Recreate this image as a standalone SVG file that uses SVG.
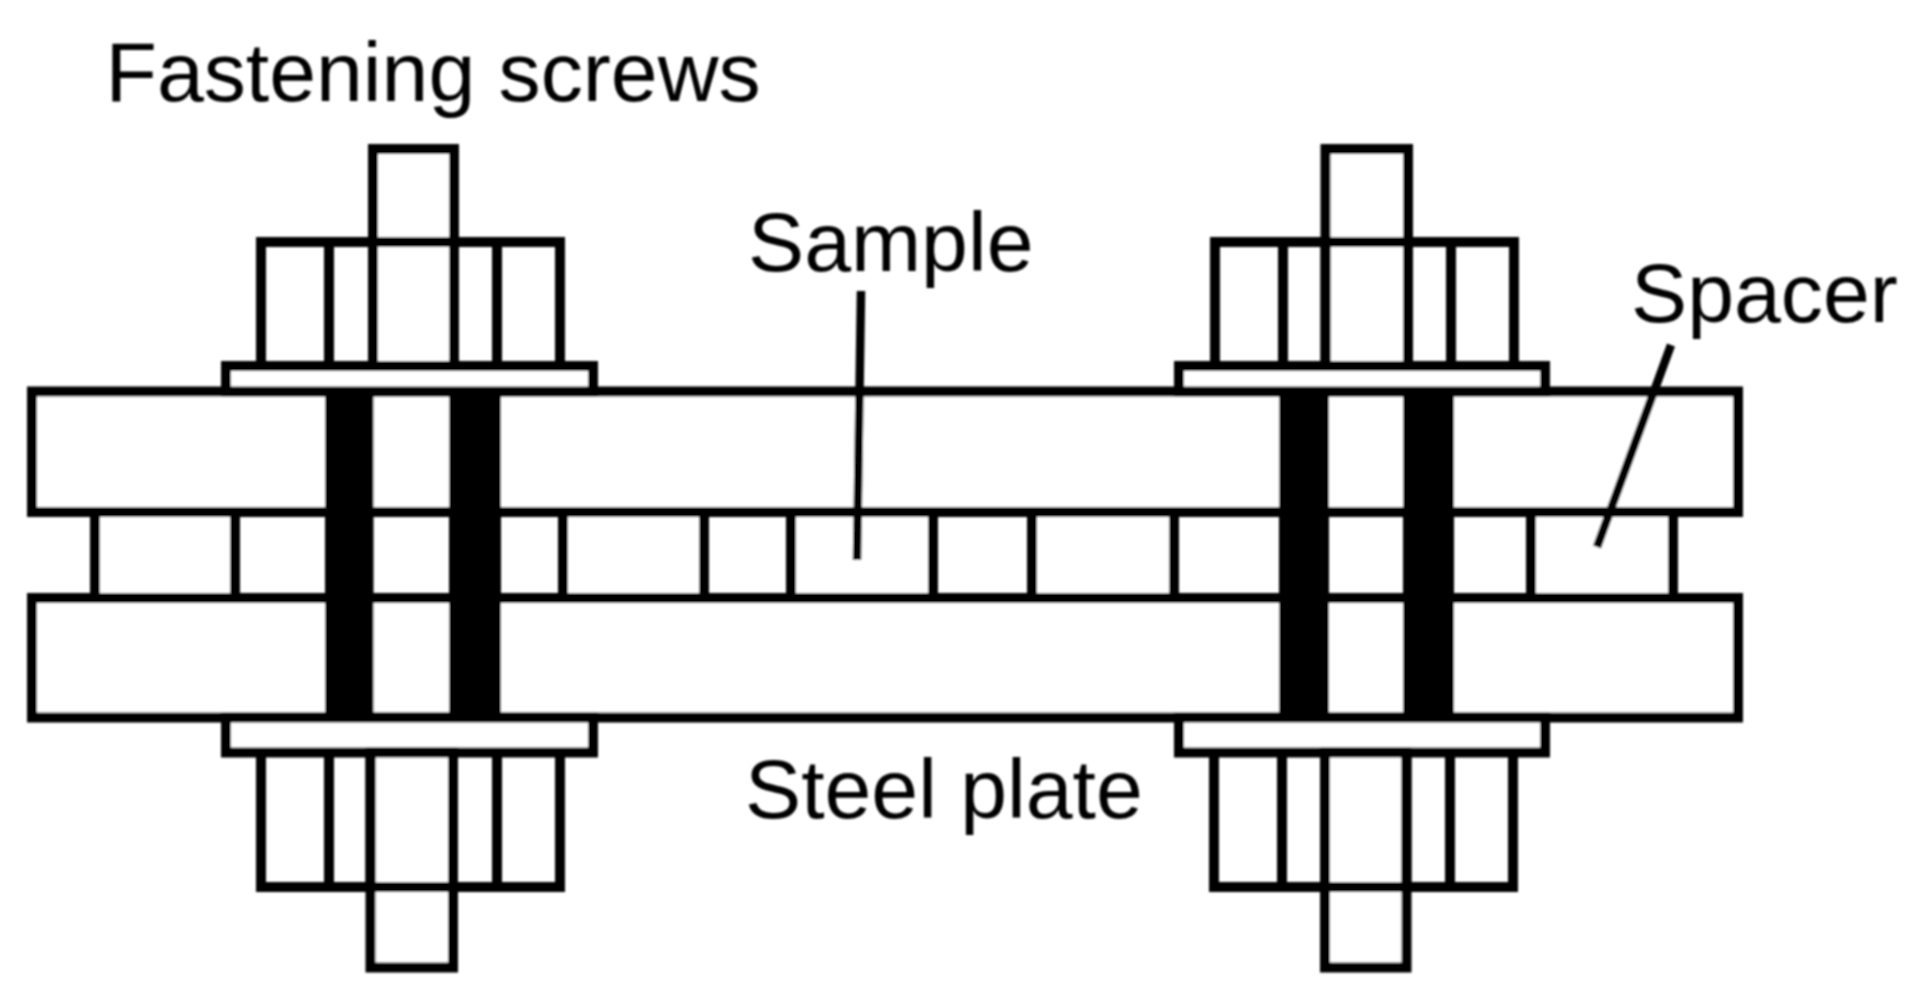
<svg xmlns="http://www.w3.org/2000/svg" width="1932" height="1005" viewBox="0 0 1932 1005">
<defs>
<style>
.s{fill:#fff;stroke:#000;stroke-width:10;stroke-linejoin:miter}
.l{fill:none;stroke:#000;stroke-width:10}
.b{fill:#000;stroke:none}
.t{font-family:"Liberation Sans",Arial,sans-serif;font-size:84.200px;fill:#000}
.c{fill:none;stroke:#000;stroke-width:8.500;stroke-linecap:butt}
</style>
<filter id="soft" x="0" y="0" width="1932" height="1005" filterUnits="userSpaceOnUse"><feGaussianBlur stdDeviation="0.8"/></filter>
</defs>
<rect width="1932" height="1005" fill="#fff"/>
<g filter="url(#soft)">
<g id="spacers">
<rect class="s" x="95" y="512" width="140" height="86"/>
<rect class="s" x="563" y="512" width="141" height="86"/>
<rect class="s" x="791" y="512" width="142" height="86"/>
<rect class="s" x="1032" y="512" width="142" height="86"/>
<rect class="s" x="1531" y="512" width="142" height="86"/>
</g>
<g id="plate-top"><rect class="s" x="32" y="391.500" width="1706" height="120.500"/></g>
<g id="plate-bottom"><rect class="s" x="32" y="598" width="1706" height="119.500"/></g>
<g id="screw-left-top">
<rect class="s" x="373" y="149" width="81" height="217"/>
<rect class="s" x="226" y="366" width="367" height="25.500"/>
<path class="l" d="M261 366V242H560V366M329 242V366M373 242V366M454 242V366M497 242V366"/>
</g>
<g id="screw-left-bottom">
<rect class="s" x="226" y="717.500" width="367" height="35"/>
<rect class="s" x="370.500" y="752.500" width="82.500" height="215"/>
<path class="l" d="M261 752.500V887H560V752.500M329 752.500V887M370.500 752.500V887M453 752.500V887M497 752.500V887"/>
</g>
<g id="screw-right-top">
<rect class="s" x="1325.500" y="149" width="82.500" height="217"/>
<rect class="s" x="1179" y="366" width="366" height="25.500"/>
<path class="l" d="M1215 366V242H1514V366M1283 242V366M1325.500 242V366M1408 242V366M1451 242V366"/>
</g>
<g id="screw-right-bottom">
<rect class="s" x="1179" y="717.500" width="366" height="35"/>
<rect class="s" x="1325" y="752.500" width="81.500" height="215"/>
<path class="l" d="M1214 752.500V887H1513V752.500M1282 752.500V887M1325 752.500V887M1406.500 752.500V887M1450 752.500V887"/>
</g>
<g id="shafts">
<rect class="b" x="325" y="387" width="48.500" height="335"/>
<rect class="b" x="449" y="387" width="52" height="335"/>
<rect class="b" x="1279" y="387" width="50" height="335"/>
<rect class="b" x="1403" y="387" width="51" height="335"/>
</g>
<g id="connectors">
<path class="c" d="M861 291L857 560"/>
<path class="c" d="M1671 345L1597 547"/>
</g>
<g id="labels">
<text class="t" x="105.500" y="101">Fastening screws</text>
<text class="t" x="748" y="271">Sample</text>
<text class="t" x="745" y="818">Steel plate</text>
<text class="t" x="1631" y="322">Spacer</text>
</g>
</g>
</svg>
